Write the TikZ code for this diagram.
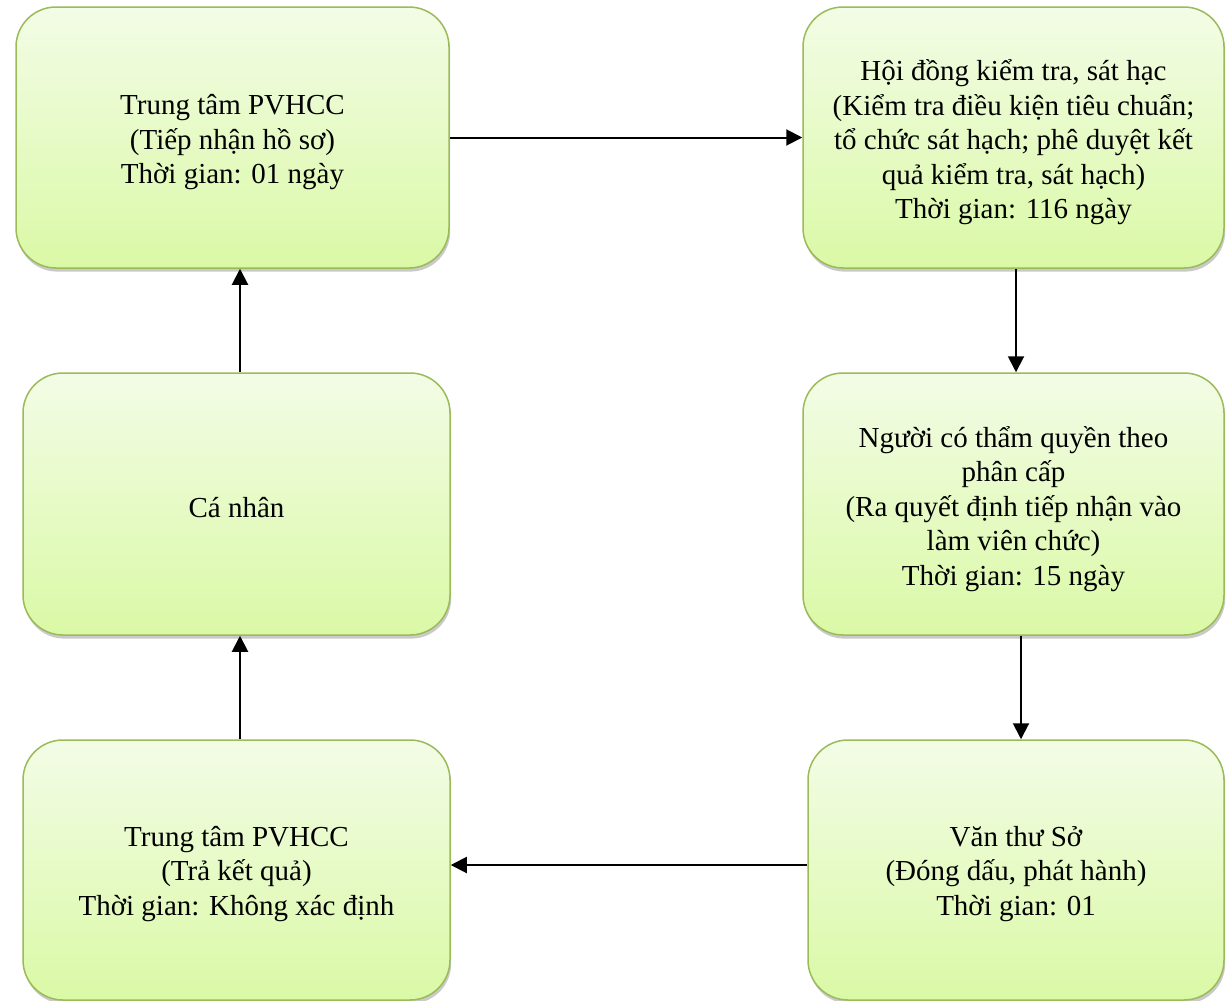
\documentclass[tikz,border=0pt]{standalone}
\usepackage{fontspec}
\setmainfont{Liberation Serif}
\usetikzlibrary{arrows.meta,shadows}
\definecolor{gtop}{RGB}{243,252,230}
\definecolor{gbot}{RGB}{218,249,166}
\definecolor{gborder}{RGB}{155,187,89}
\tikzset{
  box/.style={rectangle, rounded corners=20pt, draw=gborder, line width=0.75pt,
    top color=gtop, bottom color=gbot, inner sep=0pt,
    drop shadow={opacity=0.35, shadow xshift=0.6pt, shadow yshift=-1.8pt, fill=black!60}},
  txt/.style={align=center, inner sep=0pt, font=\fontsize{14.5pt}{17.25pt}\selectfont},
  flow/.style={line width=1pt, -{Triangle[length=8pt,width=8pt]}}
}
\begin{document}
\begin{tikzpicture}[x=0.5pt,y=-0.5pt]
\useasboundingbox (0,0) rectangle (1226,1001);
\node[box, minimum width=216.5pt, minimum height=130.5pt] (A) at (232.5,137.5) {};
\node[box, minimum width=210.5pt, minimum height=130.5pt] (B) at (1013.5,137.5) {};
\node[box, minimum width=213.5pt, minimum height=131pt] (C) at (236.5,504) {};
\node[box, minimum width=210.5pt, minimum height=131pt] (D) at (1013.5,504) {};
\node[box, minimum width=213.5pt, minimum height=130pt] (E) at (236.5,870) {};
\node[box, minimum width=208pt, minimum height=130pt] (F) at (1016,870) {};
\node[txt] (At) at ([yshift=-2.5pt]A.center)
  {Trung tâm PVHCC\\(Tiếp nhận hồ sơ)\\Thời gian: 01 ngày};
\node[txt] (Bt) at ([yshift=-2.5pt]B.center)
  {Hội đồng kiểm tra, sát hạc\\ (Kiểm tra điều kiện tiêu chuẩn;\\tổ chức sát hạch; phê duyệt kết\\quả kiểm tra, sát hạch)\\Thời gian: 116 ngày};
\node[txt] (Ct) at ([yshift=-2pt]C.center) {Cá nhân};
\node[txt] (Dt) at ([yshift=-2.5pt]D.center)
  {Người có thẩm quyền theo\\phân cấp\\ (Ra quyết định tiếp nhận vào\\làm viên chức)\\Thời gian: 15 ngày};
\node[txt] (Et) at ([yshift=-2pt]E.center)
  {Trung tâm PVHCC\\(Trả kết quả)\\Thời gian: Không xác định};
\node[txt] (Ft) at ([yshift=-2pt]F.center)
  {Văn thư Sở\\ (Đóng dấu, phát hành)\\Thời gian: 01};
\draw[flow] (A.east) -- (B.west);
\draw[flow] ([xshift=1.25pt]B.south) -- ([xshift=1.25pt]B.south |- D.north);
\draw[flow] ([xshift=3.75pt]D.south) -- ([xshift=3.75pt]D.south |- F.north);
\draw[flow] ([yshift=2.5pt]F.west) -- ([yshift=2.5pt]F.west -| E.east);
\draw[flow] ([xshift=1.75pt]E.north) -- ([xshift=1.75pt]E.north |- C.south);
\draw[flow] ([xshift=1.75pt]C.north) -- ([xshift=1.75pt]C.north |- A.south);
\end{tikzpicture}
\end{document}
